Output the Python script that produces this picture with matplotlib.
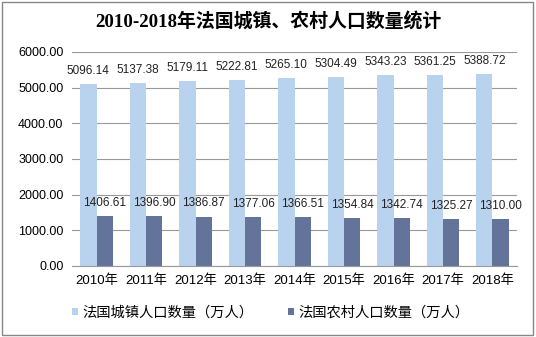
import matplotlib
matplotlib.use("Agg")
import matplotlib.pyplot as plt
import numpy as np

plt.rcParams['font.family'] = ['Liberation Sans', 'Noto Sans CJK SC', 'DejaVu Sans']

years = ["2010年", "2011年", "2012年", "2013年", "2014年", "2015年", "2016年", "2017年", "2018年"]
urban = [5096.14, 5137.38, 5179.11, 5222.81, 5265.10, 5304.49, 5343.23, 5361.25, 5388.72]
rural = [1406.61, 1396.90, 1386.87, 1377.06, 1366.51, 1354.84, 1342.74, 1325.27, 1310.00]
series_names = ["法国城镇人口数量（万人）", "法国农村人口数量（万人）"]
title = "2010-2018年法国城镇、农村人口数量统计"

light = "#B9D3EE"
dark = "#64739A"

fig = plt.figure(figsize=(5.36, 3.37), dpi=100)
ax = fig.add_axes([0.134, 0.2107, 0.831, 0.635])

x = np.arange(len(years))
w = 0.33
b1 = ax.bar(x - w / 2, urban, w, color=light, label=series_names[0], zorder=2)
b2 = ax.bar(x + w / 2, rural, w, color=dark, label=series_names[1], zorder=2)

# value labels above each bar
for xi, v in zip(x, urban):
    ax.text(xi - w / 2, v + 200, f"{v:.2f}", ha="center", va="bottom", fontsize=8.5, color="#222222")
for xi, v in zip(x, rural):
    ax.text(xi + w / 2, v + 200, f"{v:.2f}", ha="center", va="bottom", fontsize=8.5, color="#222222")

ax.set_ylim(0, 6000)
ax.set_xlim(-0.5, len(years) - 0.5)
ax.set_yticks(np.arange(0, 6001, 1000))
ax.set_yticklabels([f"{t:.2f}" for t in np.arange(0, 6001, 1000)], fontsize=9)
ax.set_xticks(x)
ax.set_xticklabels(years, fontsize=9.5)
ax.tick_params(length=0, pad=6)
ax.grid(axis="y", color="#999999", linewidth=0.8, zorder=0)
for s in ["top", "right", "left"]:
    ax.spines[s].set_visible(False)
ax.spines["bottom"].set_color("#999999")

fig.text(0.5, 0.935, title, ha="center", va="center", fontsize=13.6, fontweight="bold",
         family=["Liberation Serif", "Noto Sans CJK SC"])

fig.legend(handles=[b1, b2], loc="center", bbox_to_anchor=(0.505, 0.072), ncol=2,
           frameon=False, fontsize=10.3, handlelength=0.45, handleheight=0.45,
           handletextpad=0.3, columnspacing=2.4)

border = plt.Rectangle((0.004, 0.006), 0.99, 0.988, transform=fig.transFigure,
                       fill=False, edgecolor="#888888", linewidth=1)
fig.add_artist(border)

fig.savefig("out.png", dpi=100)
